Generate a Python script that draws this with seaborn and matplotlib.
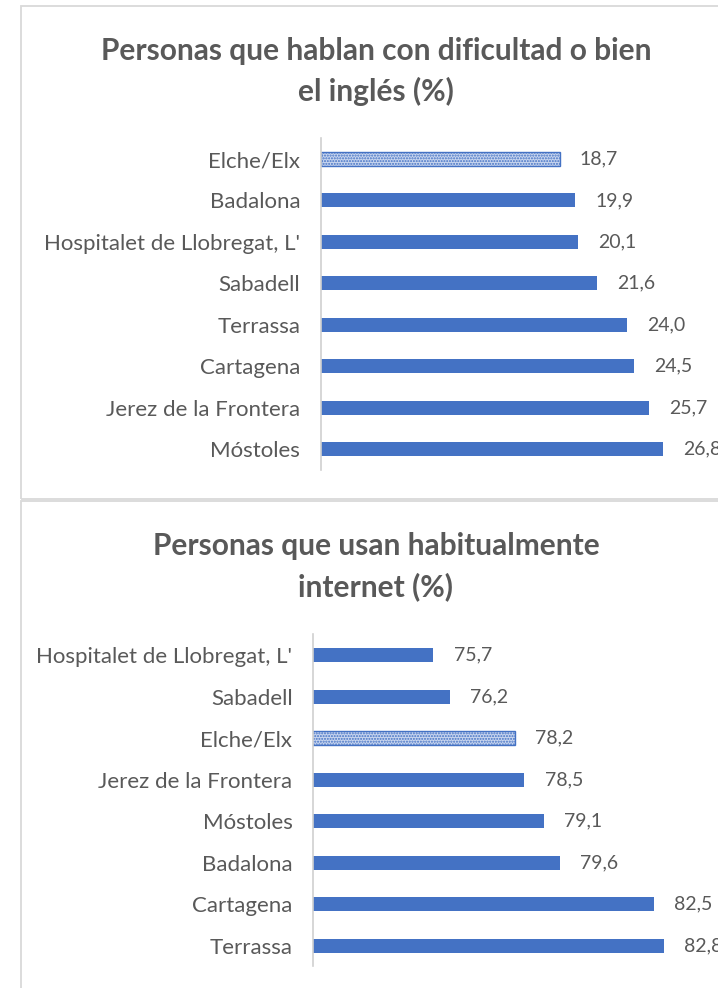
import matplotlib
matplotlib.use("Agg")
import matplotlib.pyplot as plt
from matplotlib.patches import Rectangle
import seaborn as sns
import pandas as pd

# English proficiency by city (%)
cities_en = ["Elche/Elx", "Badalona", "Hospitalet de Llobregat, L'", "Sabadell",
             "Terrassa", "Cartagena", "Jerez de la Frontera", "Móstoles"]
values_en = [18.7, 19.9, 20.1, 21.6, 24.0, 24.5, 25.7, 26.8]

# Regular internet use by city (%)
cities_net = ["Hospitalet de Llobregat, L'", "Sabadell", "Elche/Elx", "Jerez de la Frontera",
              "Móstoles", "Badalona", "Cartagena", "Terrassa"]
values_net = [75.7, 76.2, 78.2, 78.5, 79.1, 79.6, 82.5, 82.8]

highlight = "Elche/Elx"

title_en = ["Personas que hablan con dificultad o bien", "el inglés (%)"]
title_net = ["Personas que usan habitualmente", "internet (%)"]

BLUE = "#4472C4"
TEXT = "#595959"
FONT = "Lato"

sns.set_theme(style="white")
plt.rcParams["font.family"] = [FONT, "DejaVu Sans"]
plt.rcParams["hatch.color"] = BLUE

W, H = 718, 988
fig = plt.figure(figsize=(W / 100, H / 100), dpi=100)
fig.patch.set_facecolor("white")


def fx(px):
    return px / W


def fy(py):
    return 1 - py / H


# chart-area frames
for top, bottom in [(6.5, 499), (501.5, 1000)]:
    fig.add_artist(Rectangle((fx(20.5), fy(bottom)), fx(760) - fx(20.5), fy(top) - fy(bottom),
                             transform=fig.transFigure, fill=False,
                             edgecolor="#d9d9d9", linewidth=1.3, clip_on=False))


def draw(ax_rect, cities, values, xlim, title, title_y):
    ax = fig.add_axes(ax_rect)
    df = pd.DataFrame({"city": cities, "value": values})
    sns.barplot(data=df, x="value", y="city", order=cities, color=BLUE,
                saturation=1, width=0.34, ax=ax)
    for patch, city in zip(ax.patches, cities):
        patch.set_linewidth(0)
        if city == highlight:
            patch.set_facecolor("#c9d6ef")
            patch.set_edgecolor(BLUE)
            patch.set_hatch("......")
            patch.set_linewidth(1.0)
    ax.set_xlim(*xlim)
    ax.set_ylim(len(cities) - 0.5, -0.5)
    ax.set_xlabel("")
    ax.set_ylabel("")
    ax.set_xticks([])
    for s in ["top", "right", "bottom"]:
        ax.spines[s].set_visible(False)
    ax.spines["left"].set_color("#d0d0d0")
    ax.spines["left"].set_linewidth(1.2)
    ax.tick_params(axis="y", length=0, pad=15, labelsize=16, labelcolor=TEXT)
    ax.bar_label(ax.containers[0],
                 labels=[f"{v:.1f}".replace(".", ",") for v in values],
                 padding=14.5, fontsize=14, color=TEXT)
    ax.patch.set_alpha(0)
    for line, y in zip(title, title_y):
        fig.text(fx(376), fy(y), line, ha="center", va="baseline",
                 fontsize=21.5, fontweight="bold", color=TEXT)
    return ax


draw([fx(321), fy(469.7), fx(704) - fx(321), (469.7 - 138.3) / H],
     cities_en, values_en, (0, 30), title_en, [60, 101])
draw([fx(313.3), fy(966.4), fx(703) - fx(313.3), (966.4 - 634.3) / H],
     cities_net, values_net, (72, 84), title_net, [555, 596])

fig.savefig("out.png", dpi=100, facecolor="white")
